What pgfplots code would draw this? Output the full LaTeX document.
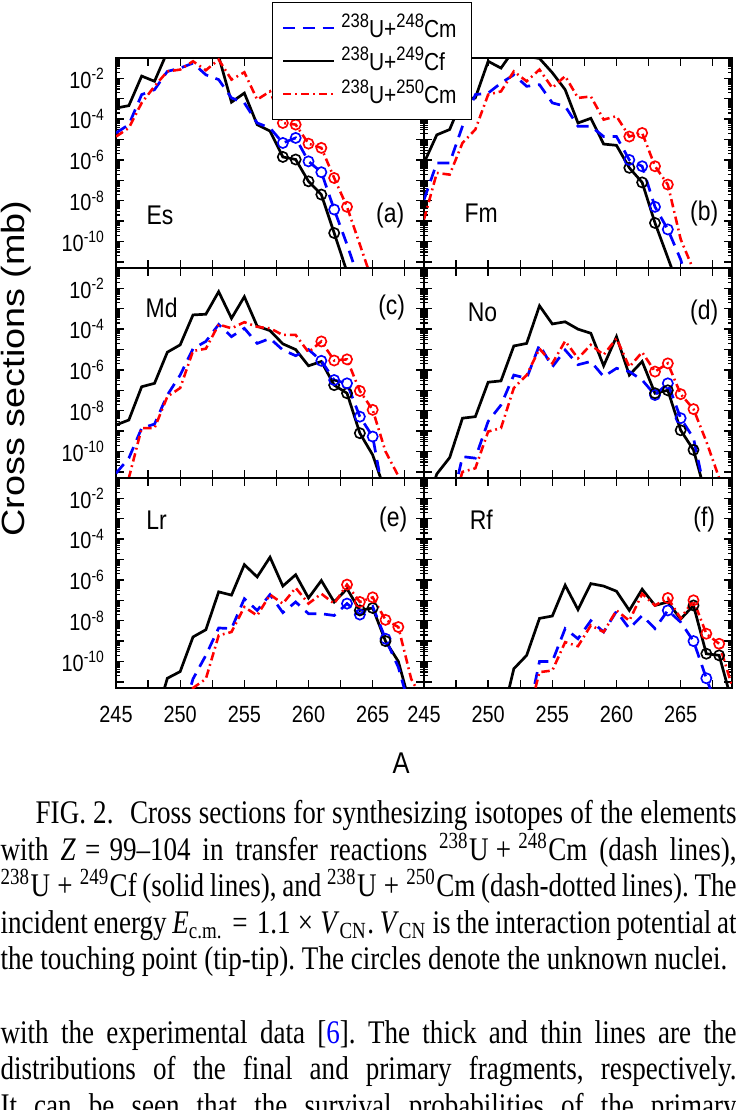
\documentclass[border=0pt]{standalone}
\usepackage{fontspec}
\setmainfont{Liberation Serif}[FakeStretch=0.82]
\newfontfamily\sansn{Liberation Sans}[FakeStretch=0.85]
\newfontfamily\sansw{Liberation Sans}
\usepackage{graphicx}
\usepackage{pgfplots}
\pgfplotsset{compat=1.18}

\newcommand\tickfont{\fontsize{7.8}{9}\selectfont\sansn}
\newcommand\panfont{\fontsize{9}{10}\selectfont\sansn}
\newcommand\legfont{\fontsize{8.2}{9}\selectfont\sansn}
\newcommand\sups[1]{\raisebox{0.4em}{\fontsize{6.5}{6}\selectfont #1}}

\pgfplotsset{
  sBl/.style={blue, line width=0.9pt, dash pattern=on 4pt off 2.6pt},
  sBk/.style={black, line width=0.9pt, solid},
  sRd/.style={red, line width=0.85pt, dash pattern=on 2.8pt off 1.3pt on 0.6pt off 1.3pt},
  sCirc/.style={only marks, mark=o, mark size=1.7pt, mark options={solid, fill=white, line width=0.55pt}},
  noX/.style={xticklabel={\mbox{}}},
  noY/.style={yticklabel={\mbox{}}},
  every axis/.append style={
    scale only axis, width=102.67pt, height=70pt,
    xmin=245, xmax=269, ymin=5e-12, ymax=1e-1,
    xtick={245,247.5,...,267.5},
    xticklabels={245,,250,,255,,260,,265,},
    ytickten={-11,...,-1},
    yticklabels={,{10\textsuperscript{-10}},,{10\textsuperscript{-8}},,{10\textsuperscript{-6}},,{10\textsuperscript{-4}},,{10\textsuperscript{-2}},},
    tick align=inside, major tick length=2.7pt, minor tick length=1.4pt,
    axis line style={line width=0.55pt},
    every tick/.append style={black, line width=0.45pt},
    tick label style={font=\tickfont},
    xticklabel style={yshift=-2.5pt},
  },
}

\begin{document}
\begin{tikzpicture}
\useasboundingbox (0,0) rectangle (245.33pt,-370pt);

% (a) Es
\begin{semilogyaxis}[noX, anchor=north west, at={(38.67pt,-19.33pt)}]
\addplot[sBk] coordinates {(245,3.5e-4) (246,4.6e-4) (247,1.3e-2) (248,7.2e-3) (249,2.0e-1) (250,0.5) (251,1.0) (252,0.4) (253,1.2e-1) (254,6.8e-4) (255,1.9e-3) (256,5.4e-5) (257,2.6e-5) (258,1.4e-6) (259,1.05e-6) (260,8.9e-8) (261,2.0e-8) (262,2.6e-10) (263,3.2e-12) (264,1e-13)};
\addplot[sBl] coordinates {(245,2.1e-5) (246,5.4e-5) (247,1.6e-3) (248,2.8e-3) (249,2.2e-2) (250,3.2e-2) (251,5.6e-2) (252,1.5e-2) (253,8.7e-3) (254,1.1e-3) (255,6.3e-4) (256,6.5e-5) (257,3.7e-5) (258,6.8e-6) (259,1.2e-5) (260,8.5e-7) (261,2.5e-7) (262,3.7e-9) (263,7.1e-11) (264,1e-12)};
\addplot[sRd] coordinates {(245,1.4e-5) (246,3.7e-5) (247,6.3e-4) (248,4.1e-3) (249,2.2e-2) (250,2.7e-2) (251,6.9e-2) (252,2.5e-2) (253,8.3e-2) (254,8.7e-3) (255,2.0e-2) (256,9.1e-4) (257,2.3e-3) (258,6.5e-5) (259,5.4e-5) (260,6.3e-6) (261,3.9e-6) (262,1.3e-7) (263,5.0e-9) (264,7.1e-11) (265,1e-12)};
\addplot[black, sCirc] coordinates {(258,1.4e-6) (259,1.05e-6) (260,8.9e-8) (261,2.0e-8) (262,2.6e-10)};
\addplot[blue, sCirc] coordinates {(258,6.8e-6) (259,1.2e-5) (260,8.5e-7) (261,2.5e-7) (262,3.7e-9)};
\addplot[red, sCirc] coordinates {(258,6.5e-5) (259,5.4e-5) (260,6.3e-6) (261,3.9e-6) (262,1.3e-7) (263,5.0e-9)};
\node[font=\panfont] at (rel axis cs:0.143,0.252) {Es};
\node[font=\panfont] at (rel axis cs:0.89,0.252) {(a)};
\end{semilogyaxis}

% (b) Fm
\begin{semilogyaxis}[noX, noY, anchor=north west, at={(141.33pt,-19.33pt)},
  legend style={at={(-0.4935,1.268)}, anchor=north west, draw=black, line width=0.5pt,
    fill=white, font=\legfont, inner xsep=3pt, inner ysep=3pt, row sep=0pt,
    nodes={inner ysep=0.85pt}, cells={anchor=west}},
  legend image code/.code={\draw[#1] (0pt,0pt) -- (17pt,0pt);}]
\addlegendimage{blue, line width=0.9pt, dash pattern=on 4pt off 2.6pt}
\addlegendimage{black, line width=0.9pt, solid}
\addlegendimage{red, line width=0.85pt, dash pattern=on 2.8pt off 1.3pt on 0.6pt off 1.3pt}
\addplot[sBk] coordinates {(245,7.1e-7) (246,1.7e-5) (247,3.1e-5) (248,1.0e-3) (249,1.1e-3) (250,6.9e-2) (251,3.2e-2) (252,0.25) (253,1.2e-1) (254,9.5e-2) (255,1.9e-2) (256,2.8e-3) (257,6.5e-5) (258,1.1e-4) (259,6.0e-6) (260,5.2e-6) (261,4.1e-7) (262,7.9e-8) (263,8.1e-10) (264,1.6e-11) (265,3e-13)};
\addplot[sBl] coordinates {(245,1.1e-8) (246,7.1e-7) (247,7.1e-7) (248,4.5e-5) (249,1.6e-3) (250,1.9e-3) (251,5.9e-3) (252,1.5e-2) (253,4.1e-3) (254,4.9e-3) (255,6.3e-4) (256,4.3e-4) (257,4.5e-5) (258,4.5e-5) (259,1.4e-5) (260,1.4e-5) (261,1.0e-6) (262,4.9e-7) (263,5.0e-9) (264,3.9e-10) (265,1.3e-11) (266,1e-13)};
\addplot[sRd] coordinates {(245,1.2e-9) (246,2.3e-7) (247,1.9e-7) (248,6.8e-6) (249,3.1e-5) (250,1.6e-3) (251,2.3e-3) (252,2.2e-2) (253,7.2e-3) (254,2.7e-2) (255,3.4e-3) (256,1.3e-2) (257,1.1e-3) (258,1.3e-3) (259,9.5e-5) (260,1.4e-4) (261,1.4e-5) (262,2.1e-5) (263,4.9e-7) (264,6.2e-8) (265,1.3e-10) (266,4e-12)};
\addplot[black, sCirc] coordinates {(261,4.1e-7) (262,7.9e-8) (263,8.1e-10)};
\addplot[blue, sCirc] coordinates {(261,1.0e-6) (262,4.9e-7) (263,5.0e-9) (264,3.9e-10)};
\addplot[red, sCirc] coordinates {(261,1.4e-5) (262,2.1e-5) (263,4.9e-7) (264,6.2e-8)};
\node[font=\panfont] at (rel axis cs:0.186,0.26) {Fm};
\node[font=\panfont] at (rel axis cs:0.91,0.26) {(b)};
\legend{\sups{238}U+\sups{248}Cm, \sups{238}U+\sups{249}Cf, \sups{238}U+\sups{250}Cm}
\end{semilogyaxis}

% (c) Md
\begin{semilogyaxis}[noX, anchor=north west, at={(38.67pt,-89.33pt)}]
\addplot[sBk] coordinates {(245,2.0e-9) (246,3.5e-9) (247,1.5e-7) (248,2.2e-7) (249,7.4e-6) (250,1.7e-5) (251,5.0e-4) (252,5.4e-4) (253,6.9e-3) (254,3.4e-4) (255,3.9e-3) (256,1.4e-4) (257,8.5e-5) (258,1.9e-5) (259,1.0e-5) (260,1.6e-6) (261,2.6e-6) (262,1.8e-7) (263,7.2e-8) (264,7.9e-10) (265,6.8e-11) (266,1e-12)};
\addplot[sBl] coordinates {(245,8.5e-12) (246,4.7e-11) (247,1.4e-9) (248,2.2e-9) (249,5.9e-8) (250,5.6e-7) (251,1.1e-5) (252,2.5e-5) (253,1.7e-4) (254,4.3e-5) (255,1.1e-4) (256,2.0e-5) (257,3.5e-5) (258,9.5e-6) (259,5.0e-6) (260,1.0e-5) (261,2.8e-6) (262,3.2e-7) (263,2.2e-7) (264,5.1e-9) (265,5.4e-10) (266,2e-13)};
\addplot[sRd] coordinates {(245,1e-13) (246,5e-12) (247,1.4e-9) (248,1.4e-9) (249,4.9e-8) (250,1.3e-7) (251,8.5e-6) (252,1.1e-5) (253,1.7e-4) (254,1.1e-4) (255,2.2e-4) (256,1.3e-4) (257,1.1e-4) (258,5.2e-5) (259,5.2e-5) (260,7.4e-6) (261,2.5e-5) (262,2.9e-6) (263,3.3e-6) (264,9.3e-8) (265,1.1e-8) (266,1.0e-10) (267,6.3e-12) (268,1e-13)};
\addplot[black, sCirc] coordinates {(262,1.8e-7) (263,7.2e-8) (264,7.9e-10)};
\addplot[blue, sCirc] coordinates {(261,2.8e-6) (262,3.2e-7) (263,2.2e-7) (264,5.1e-9) (265,5.4e-10)};
\addplot[red, sCirc] coordinates {(261,2.5e-5) (262,2.9e-6) (263,3.3e-6) (264,9.3e-8) (265,1.1e-8)};
\node[font=\panfont] at (rel axis cs:0.148,0.81) {Md};
\node[font=\panfont] at (rel axis cs:0.895,0.81) {(c)};
\end{semilogyaxis}

% (d) No
\begin{semilogyaxis}[noX, noY, anchor=north west, at={(141.33pt,-89.33pt)}]
\addplot[sBk] coordinates {(245,1e-13) (246,7.9e-12) (247,5.0e-11) (248,4.3e-9) (249,5.1e-9) (250,2.5e-7) (251,2.9e-7) (252,1.5e-5) (253,2.0e-5) (254,1.4e-3) (255,1.8e-4) (256,2.3e-4) (257,1.0e-4) (258,6.3e-5) (259,1.6e-6) (260,4.3e-5) (261,5.6e-7) (262,2.6e-6) (263,7.2e-8) (264,1.0e-7) (265,1.1e-9) (266,1.2e-10) (267,6e-13)};
\addplot[sBl] coordinates {(247,1e-13) (248,5.6e-11) (249,4.7e-11) (250,3.0e-9) (251,1.9e-8) (252,5.6e-7) (253,3.9e-7) (254,1.7e-5) (255,1.4e-6) (256,9.5e-6) (257,1.8e-6) (258,2.6e-6) (259,4.7e-7) (260,1.2e-6) (261,8.3e-7) (262,3.2e-7) (263,5.9e-8) (264,2.2e-7) (265,4.3e-9) (266,4.5e-10) (267,5e-13)};
\addplot[sRd] coordinates {(247,1e-13) (248,1e-11) (249,1.5e-11) (250,9.5e-10) (251,1.4e-9) (252,1.3e-7) (253,5.6e-7) (254,1.1e-5) (255,2.1e-6) (256,2.6e-5) (257,3.7e-6) (258,1.7e-5) (259,5.5e-6) (260,3.5e-5) (261,1.4e-6) (262,7.4e-6) (263,8.3e-7) (264,2.1e-6) (265,6.5e-8) (266,1.2e-8) (267,3.1e-10) (268,5e-12) (269,1e-13)};
\addplot[blue, sCirc] coordinates {(263,5.9e-8) (264,2.2e-7) (265,4.3e-9)};
\addplot[black, sCirc] coordinates {(263,7.2e-8) (264,1.0e-7) (265,1.1e-9) (266,1.2e-10)};
\addplot[red, sCirc] coordinates {(263,8.3e-7) (264,2.1e-6) (265,6.5e-8) (266,1.2e-8)};
\node[font=\panfont] at (rel axis cs:0.19,0.79) {No};
\node[font=\panfont] at (rel axis cs:0.91,0.79) {(d)};
\end{semilogyaxis}

% (e) Lr
\begin{semilogyaxis}[anchor=north west, at={(38.67pt,-159.33pt)}]
\addplot[sBk] coordinates {(248,1e-13) (249,1.5e-11) (250,3.2e-11) (251,1.6e-9) (252,3.6e-9) (253,2.6e-7) (254,1.8e-7) (255,5.6e-6) (256,1.4e-6) (257,1.3e-5) (258,5.0e-7) (259,1.8e-6) (260,1.3e-7) (261,9.3e-7) (262,8.3e-8) (263,3.7e-7) (264,3.2e-8) (265,4.2e-8) (266,1.0e-9) (267,1.0e-10) (268,5e-13)};
\addplot[sBl] coordinates {(250,1e-13) (251,1.4e-11) (252,2.0e-10) (253,4.4e-9) (254,4.1e-9) (255,1.2e-7) (256,3.2e-8) (257,1.9e-7) (258,2.5e-8) (259,8.3e-8) (260,2.2e-8) (261,2.2e-8) (262,1.8e-8) (263,6.9e-8) (264,2.0e-8) (265,5.0e-8) (266,1.3e-9) (267,5.2e-11) (268,3e-13)};
\addplot[sRd] coordinates {(250,1e-13) (251,5e-12) (252,1.4e-11) (253,1.9e-9) (254,2.8e-9) (255,4.7e-8) (256,1.8e-8) (257,1.9e-7) (258,6.9e-8) (259,4.1e-7) (260,6.9e-8) (261,2.1e-7) (262,6.9e-8) (263,5.9e-7) (264,8.3e-8) (265,1.4e-7) (266,1.1e-8) (267,4.9e-9) (268,1.4e-11) (269,1e-12)};
\addplot[blue, sCirc] coordinates {(263,6.9e-8) (264,2.0e-8) (266,1.3e-9)};
\addplot[black, sCirc] coordinates {(264,3.2e-8) (265,4.2e-8) (266,1.0e-9)};
\addplot[red, sCirc] coordinates {(263,5.9e-7) (264,8.3e-8) (265,1.4e-7) (266,1.1e-8) (267,4.9e-9)};
\node[font=\panfont] at (rel axis cs:0.132,0.80) {Lr};
\node[font=\panfont] at (rel axis cs:0.9,0.80) {(e)};
\end{semilogyaxis}

% (f) Rf
\begin{semilogyaxis}[noY, anchor=north west, at={(141.33pt,-159.33pt)}]
\addplot[sBk] coordinates {(251,1e-13) (252,4.4e-11) (253,2.0e-10) (254,1.3e-8) (255,1.7e-8) (256,5.5e-7) (257,3.5e-8) (258,6.6e-7) (259,5.0e-7) (260,2.8e-7) (261,3.2e-8) (262,3.5e-7) (263,5.6e-8) (264,8.3e-8) (265,1.2e-8) (266,5.6e-8) (267,2.4e-10) (268,2.0e-10) (269,1e-12)};
\addplot[sBl] coordinates {(253,1e-13) (254,1.0e-10) (255,1.0e-10) (256,4.1e-9) (257,1.3e-9) (258,1.0e-8) (259,2.8e-9) (260,2.9e-8) (261,4.1e-9) (262,1.8e-8) (263,4.1e-9) (264,3.2e-8) (265,8.5e-9) (266,1.0e-9) (267,1.5e-11) (268,3e-13)};
\addplot[sRd] coordinates {(253,1e-13) (254,3.0e-11) (255,3.6e-11) (256,8.9e-10) (257,5.6e-10) (258,5.9e-9) (259,2.8e-9) (260,3.2e-8) (261,1.0e-8) (262,2.1e-7) (263,5.6e-8) (264,1.3e-7) (265,1.3e-8) (266,1.0e-7) (267,2.3e-9) (268,7.4e-10) (269,6.3e-12)};
\addplot[blue, sCirc] coordinates {(264,3.2e-8) (266,1.0e-9) (267,1.5e-11)};
\addplot[black, sCirc] coordinates {(266,5.6e-8) (267,2.4e-10) (268,2.0e-10)};
\addplot[red, sCirc] coordinates {(264,1.3e-7) (266,1.0e-7) (267,2.3e-9) (268,7.4e-10)};
\node[font=\panfont] at (rel axis cs:0.186,0.80) {Rf};
\node[font=\panfont] at (rel axis cs:0.91,0.80) {(f)};
\end{semilogyaxis}

% axis titles
\node[rotate=90, anchor=base, inner sep=0pt, font=\fontsize{12.6}{14}\selectfont\sansw]
  at (8.3pt,-122.8pt) {\scalebox{1}[0.85]{Cross sections (mb)}};
\node[anchor=base, inner sep=0pt, font=\fontsize{10}{12}\selectfont\sansn]
  at (133.7pt,-257.7pt) {A};

% caption
\node[anchor=base west, inner sep=0pt] at (0pt,-274.6pt) {\parbox[t]{245.33pt}{%
\fontsize{11}{12.17}\selectfont\frenchspacing
\hspace*{11.7pt}FIG.~2.\hspace{0.5em}Cross sections for synthesizing isotopes of the elements\linebreak
with \textit{Z}\hspace{0.28em}=\hspace{0.28em}99–104 in transfer reactions \textsuperscript{238}U\hspace{0.22em}+\hspace{0.22em}\textsuperscript{248}Cm (dash lines),\linebreak
\textsuperscript{238}U\hspace{0.22em}+\hspace{0.22em}\textsuperscript{249}Cf (solid lines), and \textsuperscript{238}U\hspace{0.22em}+\hspace{0.22em}\textsuperscript{250}Cm (dash-dotted lines). The\linebreak
incident energy \textit{E}\textsubscript{c.m.}\hspace{0.28em}=\hspace{0.28em}1.1\hspace{0.22em}×\hspace{0.22em}\textit{V}\textsubscript{CN}. \textit{V}\textsubscript{CN} is the interaction potential at\linebreak
the touching point (tip-tip). The circles denote the unknown nuclei.}};

% following text
\node[anchor=base west, inner sep=0pt] at (0pt,-347.7pt) {\parbox[t]{245.33pt}{%
\fontsize{11}{12.17}\selectfont\frenchspacing\parfillskip=0pt
with the experimental data [\textcolor{blue}{6}]. The thick and thin lines are the\linebreak
distributions of the final and primary fragments, respectively.\linebreak
It can be seen that the survival probabilities of the primary}};
\end{tikzpicture}
\end{document}
